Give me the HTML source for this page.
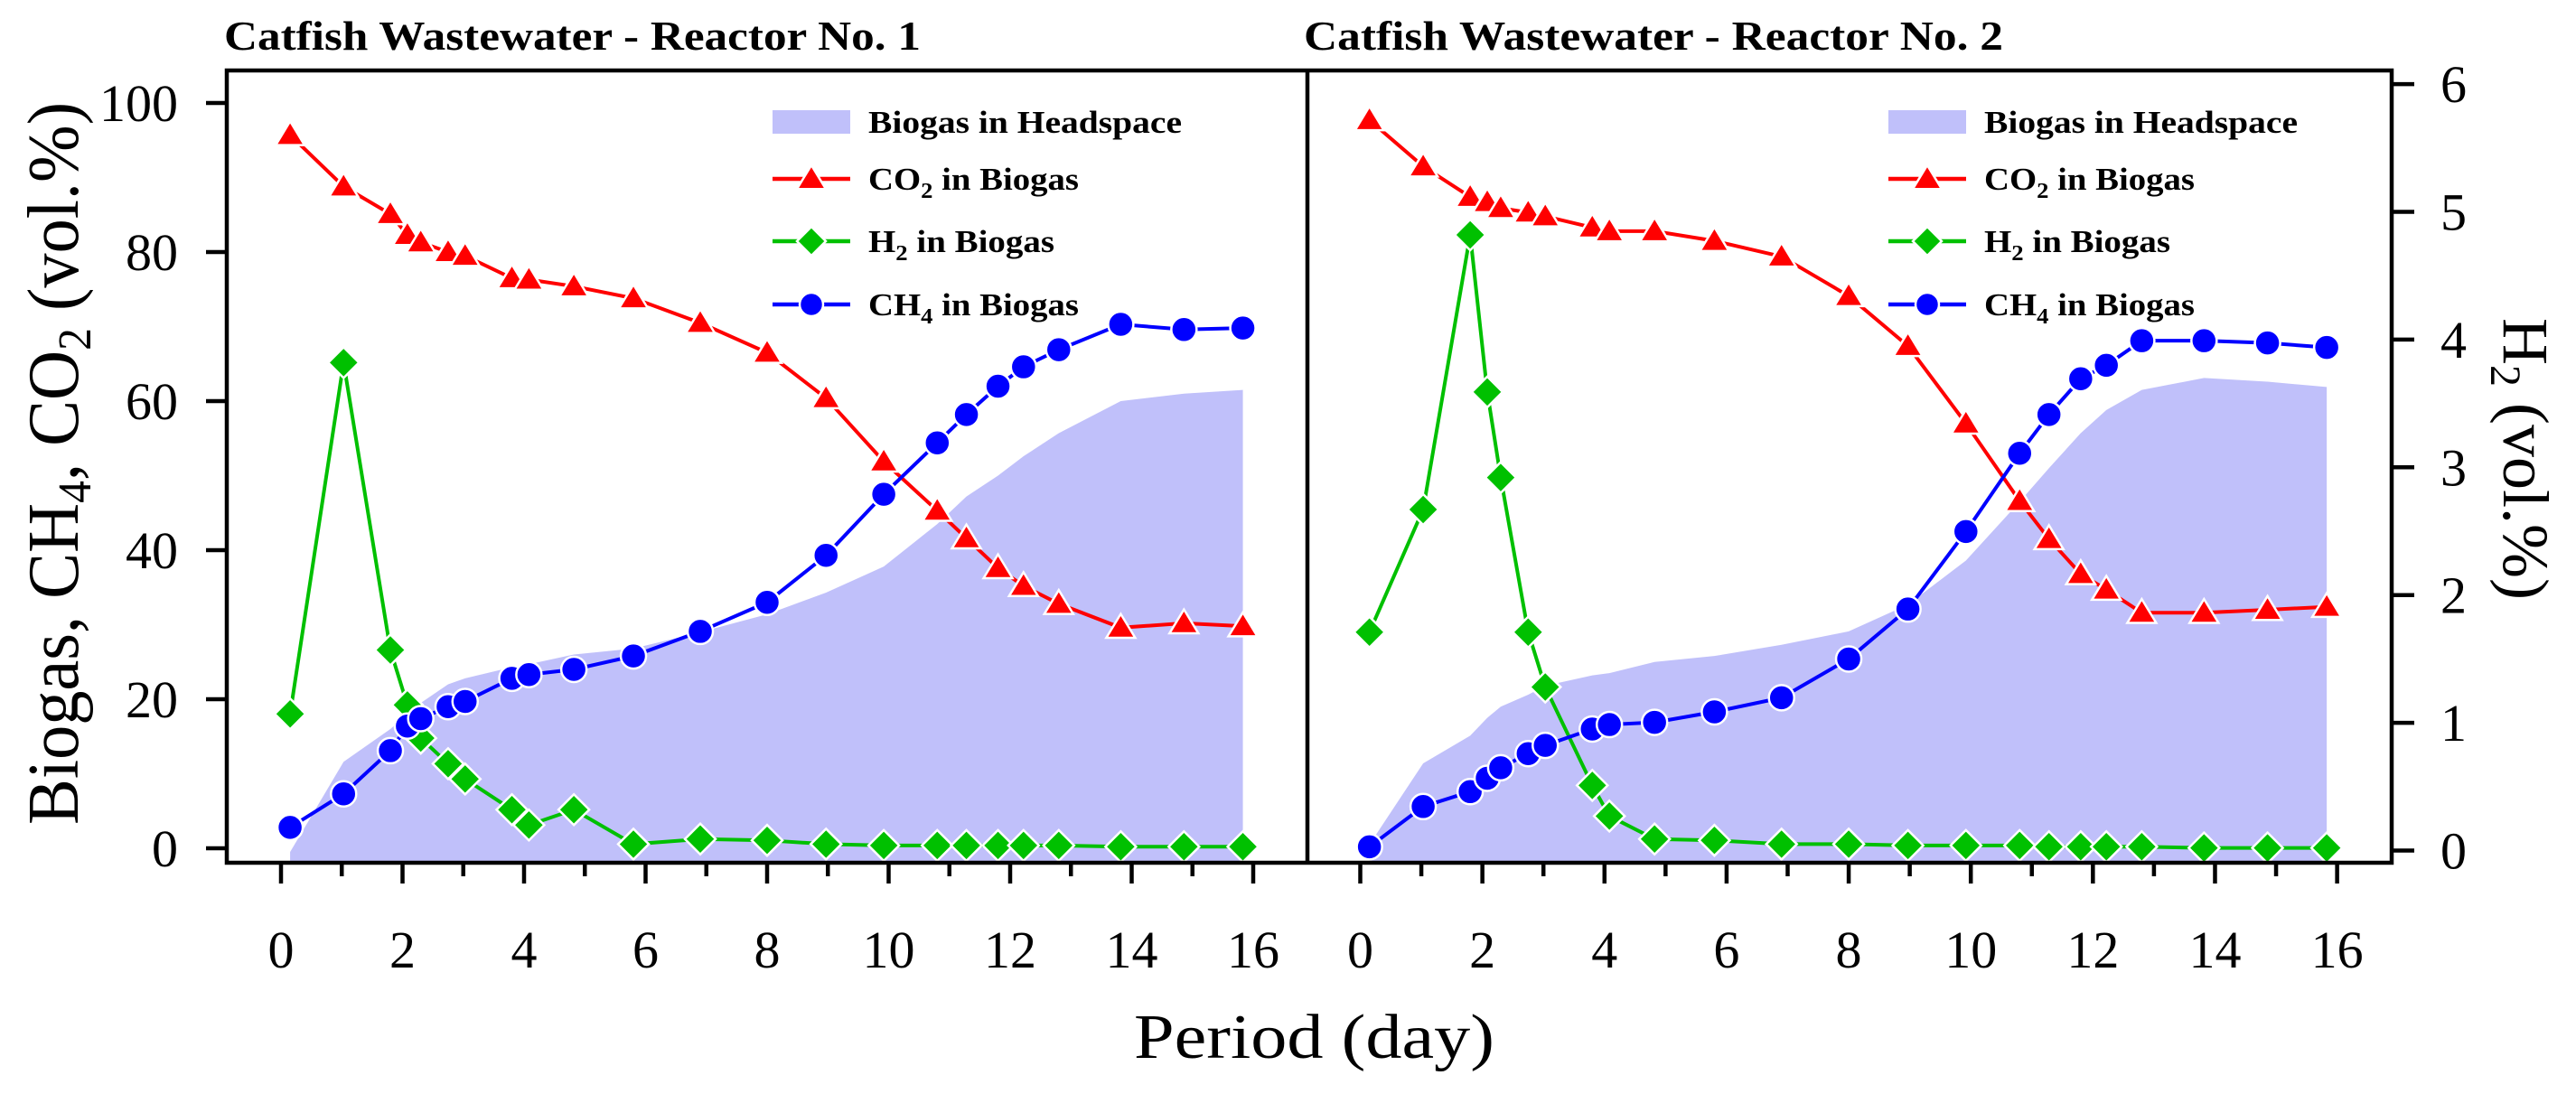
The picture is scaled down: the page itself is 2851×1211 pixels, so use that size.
<!DOCTYPE html>
<html>
<head>
<meta charset="utf-8">
<style>
  html, body { margin:0; padding:0; background:#fff; }
  svg { display:block; font-family:"Liberation Serif", serif; }
</style>
</head>
<body>
<svg id="chart" width="2851" height="1211" viewBox="0 0 2851 1211" xmlns="http://www.w3.org/2000/svg">
  <rect x="0" y="0" width="2851" height="1211" fill="#ffffff"/>
  <g id="plot"></g>
  <g id="axes"></g>

  <text x="248" y="55" font-size="46" font-weight="bold" textLength="771" lengthAdjust="spacingAndGlyphs">Catfish Wastewater - Reactor No. 1</text>
  <text x="1443" y="55" font-size="46" font-weight="bold" textLength="774" lengthAdjust="spacingAndGlyphs">Catfish Wastewater - Reactor No. 2</text>

  <text transform="translate(86,913) rotate(-90)" font-size="80" textLength="800" lengthAdjust="spacingAndGlyphs">Biogas, CH<tspan font-size="52" dy="14">4</tspan><tspan dy="-14">, CO</tspan><tspan font-size="52" dy="14">2</tspan><tspan dy="-14"> (vol.%)</tspan></text>
  <text transform="translate(2771,352) rotate(90)" font-size="72">H<tspan font-size="48" dy="14">2</tspan><tspan dy="-14"> (vol.%)</tspan></text>
  <text x="1255" y="1171" font-size="70" textLength="399" lengthAdjust="spacingAndGlyphs">Period (day)</text>

  <g id="legends"></g>
</svg>
<script>
// ---- data ----
const days = [0.15,1.03,1.8,2.08,2.3,2.75,3.03,3.8,4.08,4.82,5.8,6.9,8.0,8.97,9.92,10.8,11.28,11.8,12.22,12.8,13.82,14.86,15.83];
const co2L = [95.7,88.8,85.1,82.3,81.3,80.0,79.5,76.5,76.3,75.4,73.8,70.5,66.5,60.4,51.9,45.3,41.6,37.6,35.2,32.8,29.6,30.2,29.8];
const ch4L = [2.8,7.3,13.1,16.4,17.4,19.0,19.7,22.8,23.3,24.0,25.8,29.1,33.0,39.3,47.5,54.4,58.2,62.0,64.6,66.9,70.3,69.6,69.8];
const h2L = [1.07,3.82,1.57,1.14,0.88,0.68,0.56,0.32,0.2,0.32,0.05,0.09,0.08,0.05,0.04,0.04,0.04,0.04,0.04,0.04,0.03,0.03,0.03];
const biogasL = [-0.5,11.6,16,18,19.5,22,22.8,24.3,24.7,26,26.8,29,31.4,34.3,37.8,43.5,47.2,50,52.6,55.7,60,61,61.5];
const co2R = [97.7,91.5,87.4,86.7,85.9,85.3,84.8,83.3,82.8,82.8,81.5,79.4,74.1,67.4,57.0,46.6,41.5,36.8,34.7,31.6,31.6,32.0,32.4];
const ch4R = [0.2,5.6,7.6,9.4,10.8,12.7,13.8,16.0,16.6,16.9,18.3,20.2,25.4,32.1,42.5,53,58.2,63,64.8,68.1,68.1,67.8,67.2];
const h2R = [1.71,2.67,4.82,3.59,2.92,1.71,1.28,0.51,0.27,0.09,0.08,0.05,0.05,0.04,0.04,0.04,0.03,0.03,0.03,0.03,0.02,0.02,0.02];
const biogasR = [0.5,11.4,15.1,17.5,19,20.6,21.8,23.2,23.5,25,25.8,27.3,29.1,32.7,38.6,46.5,51,55.7,58.8,61.5,63.1,62.6,61.9];
const xTickLabels = ["0","2","4","6","8","10","12","14","16"];
const yTickLabels = ["0","20","40","60","80","100"];
const h2TickLabels = ["0","1","2","3","4","5","6"];

// ---- scales ----
const NS = "http://www.w3.org/2000/svg";
const FRAME = {left:251, mid:1447, right:2647, top:78, bottom:955};
function xL(d){ return 311 + 67.25*d; }
function xR(d){ return 1505.5 + 67.57*d; }
function yP(v){ return 939 - 8.25*v; }
function yH(h){ return 941.5 - 141.4*h; }

function mk(tag, attrs, parent){
  const e = document.createElementNS(NS, tag);
  for (const k in attrs) e.setAttribute(k, attrs[k]);
  parent.appendChild(e);
  return e;
}
const plot = document.getElementById('plot');
const axes = document.getElementById('axes');
const legends = document.getElementById('legends');

function tri(g, x, y, s){
  return mk('polygon', {points:`${x},${y-s*0.95} ${x-s},${y+s*0.7} ${x+s},${y+s*0.7}`, fill:'#ff0000', stroke:'#ffffff', 'stroke-width':2.5}, g);
}
function dia(g, x, y, s){
  return mk('polygon', {points:`${x},${y-s} ${x+s},${y} ${x},${y+s} ${x-s},${y}`, fill:'#00c000', stroke:'#ffffff', 'stroke-width':2.5}, g);
}
function circ(g, x, y, r){
  return mk('circle', {cx:x, cy:y, r:r, fill:'#0000ff', stroke:'#ffffff', 'stroke-width':2.5}, g);
}

function drawPanel(side, xf, co2, ch4, h2, bio){
  let pts = `${xf(days[0])},${FRAME.bottom} `;
  days.forEach((d,i)=>{ pts += `${xf(d)},${yP(bio[i])} `; });
  pts += `${xf(days[days.length-1])},${FRAME.bottom}`;
  const area = mk('polygon', {points:pts, fill:'#c0c0fa'}, plot);
  
  

  const gc = mk('g', {}, plot);
  
  
  mk('polyline', {points: days.map((d,i)=>`${xf(d)},${yP(co2[i])}`).join(' '), fill:'none', stroke:'#ff0000', 'stroke-width':4}, gc);
  days.forEach((d,i)=>{
    const m = tri(gc, xf(d), yP(co2[i]), 16);
    
    
  });

  const gh = mk('g', {}, plot);
  
  
  mk('polyline', {points: days.map((d,i)=>`${xf(d)},${yH(h2[i])}`).join(' '), fill:'none', stroke:'#00c000', 'stroke-width':4}, gh);
  days.forEach((d,i)=>{
    const m = dia(gh, xf(d), yH(h2[i]), 17);
    
    
  });

  const gm = mk('g', {}, plot);
  
  
  mk('polyline', {points: days.map((d,i)=>`${xf(d)},${yP(ch4[i])}`).join(' '), fill:'none', stroke:'#0000ff', 'stroke-width':4}, gm);
  days.forEach((d,i)=>{
    const m = circ(gm, xf(d), yP(ch4[i]), 14);
    
    
  });

  for (let d=0; d<=16; d++){
    const major = d%2===0;
    const t = mk('line', {x1:xf(d), x2:xf(d), y1:FRAME.bottom, y2:FRAME.bottom + (major?23:15), stroke:'#000', 'stroke-width':4.5}, axes);
    
    
    if (major){
      const lb = mk('text', {x:xf(d), y:1071, 'font-size':58, 'text-anchor':'middle'}, axes);
      lb.textContent = xTickLabels[d/2];
      
      
    }
  }
}

drawPanel('left', xL, co2L, ch4L, h2L, biogasL);
drawPanel('right', xR, co2R, ch4R, h2R, biogasR);

const frame = mk('rect', {x:FRAME.left, y:FRAME.top, width:FRAME.right-FRAME.left, height:FRAME.bottom-FRAME.top, fill:'none', stroke:'#000', 'stroke-width':4.5}, axes);


const divider = mk('line', {x1:FRAME.mid, x2:FRAME.mid, y1:FRAME.top, y2:FRAME.bottom, stroke:'#000', 'stroke-width':4.5}, axes);



yTickLabels.forEach((lab,i)=>{
  const v = i*20;
  const t = mk('line', {x1:FRAME.left-23, x2:FRAME.left, y1:yP(v), y2:yP(v), stroke:'#000', 'stroke-width':4.5}, axes);
  
  
  const tx = mk('text', {x:197, y:yP(v)+20, 'font-size':58, 'text-anchor':'end'}, axes);
  tx.textContent = lab;
  
  
});
h2TickLabels.forEach((lab,i)=>{
  const t = mk('line', {x1:FRAME.right, x2:FRAME.right+25, y1:yH(i), y2:yH(i), stroke:'#000', 'stroke-width':4.5}, axes);
  
  
  const tx = mk('text', {x:2701, y:yH(i)+20, 'font-size':58}, axes);
  tx.textContent = lab;
  
  
});

function legend(side, x0){
  const g = mk('g', {}, legends);
  
  
  const tx = x0 + 106;
  const sw = mk('rect', {x:x0, y:122, width:86, height:26, fill:'#c0c0fa'}, g);
  
  
  const t1 = mk('text', {x:tx, y:147, 'font-size':35, 'font-weight':'bold', textLength:347, lengthAdjust:'spacingAndGlyphs'}, g);
  t1.textContent = 'Biogas in Headspace';
  
  

  const yc = 198;
  mk('line', {x1:x0, x2:x0+86, y1:yc, y2:yc, stroke:'#ff0000', 'stroke-width':4.5}, g);
  tri(g, x0+43, yc, 16);
  const t2 = mk('text', {x:tx, y:yc+12, 'font-size':35, 'font-weight':'bold', textLength:233, lengthAdjust:'spacingAndGlyphs'}, g);
  t2.innerHTML = 'CO<tspan font-size="24" dy="9">2</tspan><tspan dy="-9"> in Biogas</tspan>';
  
  

  const yh = 267;
  mk('line', {x1:x0, x2:x0+86, y1:yh, y2:yh, stroke:'#00c000', 'stroke-width':4.5}, g);
  dia(g, x0+43, yh, 16);
  const t3 = mk('text', {x:tx, y:yh+12, 'font-size':35, 'font-weight':'bold', textLength:206, lengthAdjust:'spacingAndGlyphs'}, g);
  t3.innerHTML = 'H<tspan font-size="24" dy="9">2</tspan><tspan dy="-9"> in Biogas</tspan>';
  
  

  const ym = 337;
  mk('line', {x1:x0, x2:x0+86, y1:ym, y2:ym, stroke:'#0000ff', 'stroke-width':4.5}, g);
  circ(g, x0+43, ym, 13);
  const t4 = mk('text', {x:tx, y:ym+12, 'font-size':35, 'font-weight':'bold', textLength:233, lengthAdjust:'spacingAndGlyphs'}, g);
  t4.innerHTML = 'CH<tspan font-size="24" dy="9">4</tspan><tspan dy="-9"> in Biogas</tspan>';
  
  
}
legend('left', 855);
legend('right', 2090);
</script>
</body>
</html>
